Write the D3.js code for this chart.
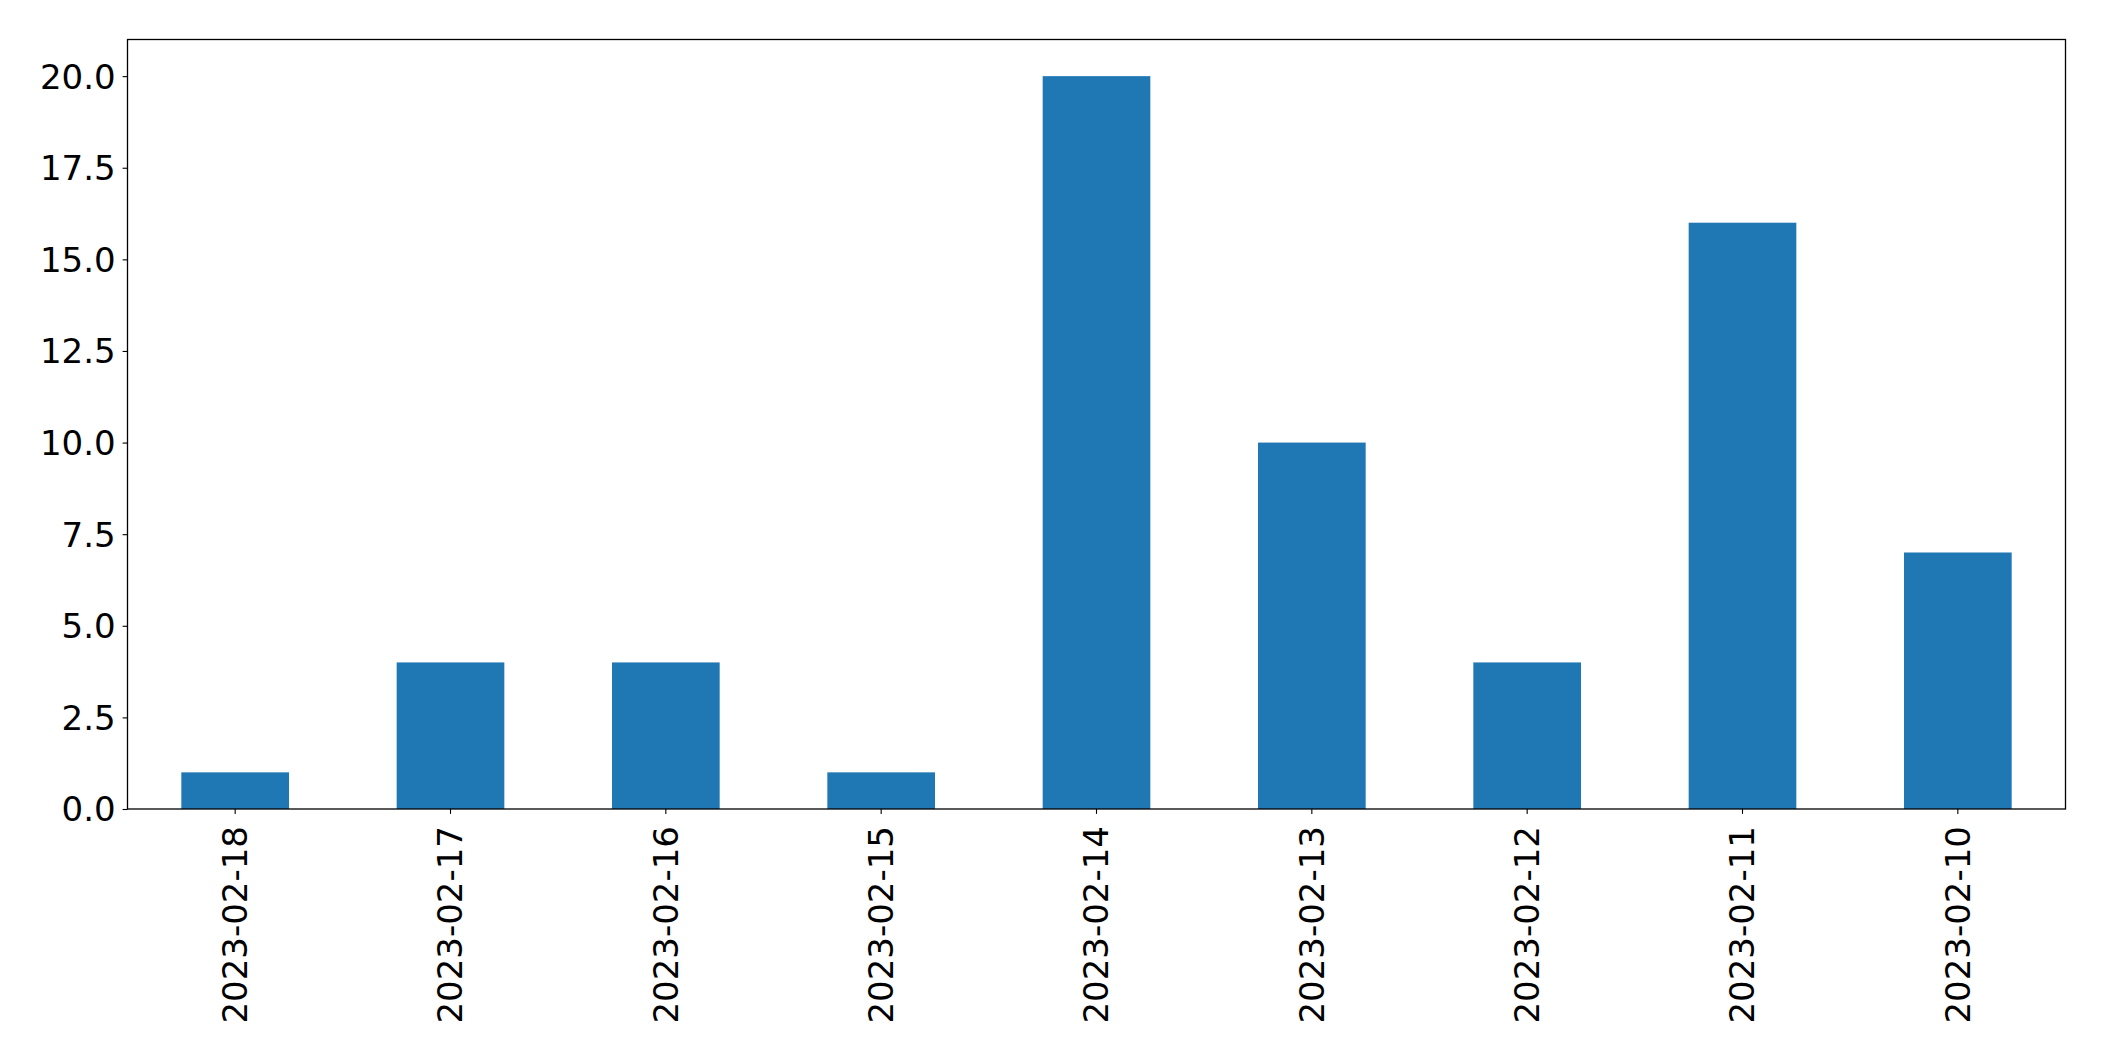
<!DOCTYPE html>
<html>
<head>
<meta charset="utf-8">
<script src="https://cdn.jsdelivr.net/npm/d3@7"></script>
<style>
html,body{margin:0;padding:0;background:#fff;}
svg{display:block;}
text{font-family:"DejaVu Sans",sans-serif;fill:#000;}
</style>
</head>
<body>
<svg id="chart" width="2104" height="1061"></svg>
<script>
const categories = ["2023-02-18","2023-02-17","2023-02-16","2023-02-15","2023-02-14","2023-02-13","2023-02-12","2023-02-11","2023-02-10"];
const values = [1, 4, 4, 1, 20, 10, 4, 16, 7];
const yTicks = [0, 2.5, 5, 7.5, 10, 12.5, 15, 17.5, 20];

const W = 2104, H = 1061;
const m = {left: 127.5, top: 39.5, right: W - 2065.5, bottom: H - 809};
const iw = W - m.left - m.right, ih = H - m.top - m.bottom;
const svg = d3.select("#chart");
const g = svg.append("g").attr("transform", `translate(${m.left},${m.top})`);

const x = d3.scaleBand().domain(categories).range([0, iw]).paddingInner(0.5).paddingOuter(0.25);
const y = d3.scaleLinear().domain([0, 21]).range([ih, 0]);

g.selectAll("rect.bar").data(values).enter().append("rect")
  .attr("class","bar")
  .attr("x", (d,i) => x(categories[i]))
  .attr("width", x.bandwidth())
  .attr("y", d => y(d))
  .attr("height", d => y(0) - y(d))
  .attr("fill", "#1f77b4");

const fs = 34;
const yAxis = g.append("g").call(d3.axisLeft(y).tickValues(yTicks).tickFormat(d3.format(".1f")).tickSize(4.9).tickPadding(7));
yAxis.select(".domain").remove();
yAxis.selectAll("line").attr("stroke","#000").attr("stroke-width",1.1);
yAxis.selectAll("text").attr("font-size", fs).attr("font-family","DejaVu Sans").attr("dy","0.35em");

const xAxis = g.append("g").attr("transform",`translate(0,${ih})`)
  .call(d3.axisBottom(x).tickSize(4.9).tickPadding(0));
xAxis.select(".domain").remove();
xAxis.selectAll("line").attr("stroke","#000").attr("stroke-width",1.1);
xAxis.selectAll("text")
  .attr("font-size", fs).attr("font-family","DejaVu Sans")
  .attr("text-anchor","end")
  .attr("transform","translate(0,17) rotate(-90)")
  .attr("x",0).attr("y",0).attr("dy","0.35em");

g.append("rect").attr("x",0).attr("y",0).attr("width",iw).attr("height",ih)
  .attr("fill","none").attr("stroke","#000").attr("stroke-width",1.3);
</script>
</body>
</html>
